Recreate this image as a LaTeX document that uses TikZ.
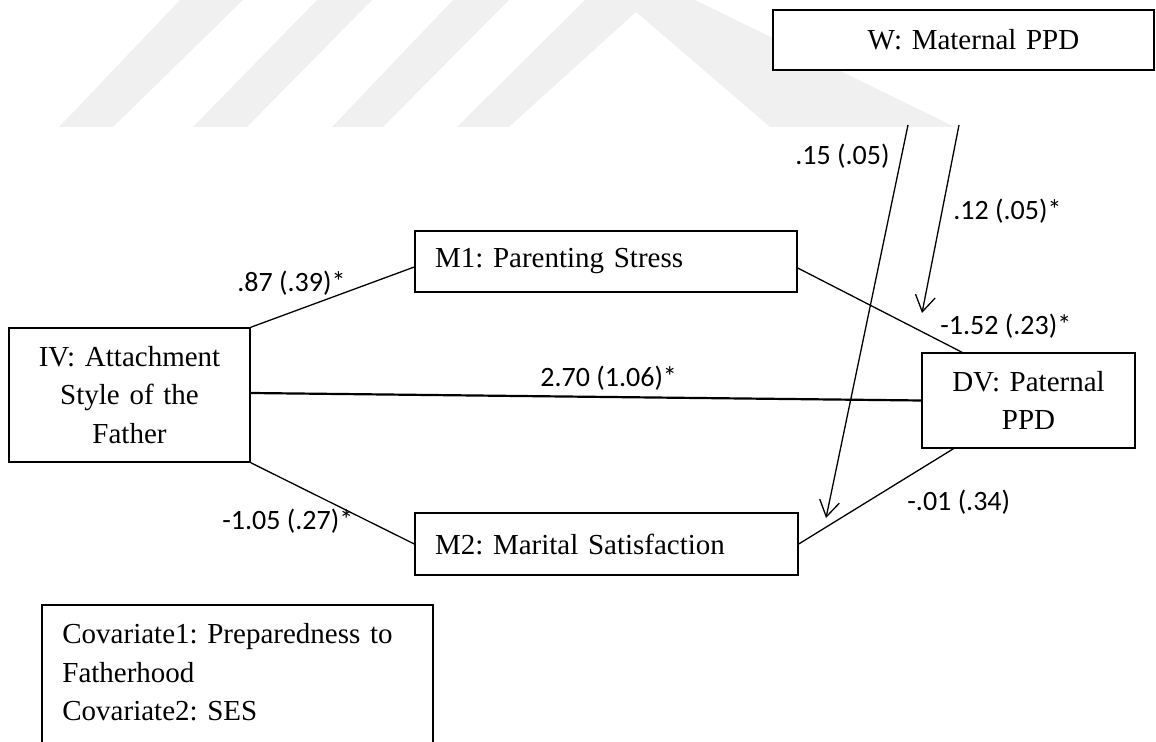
\documentclass[tikz,border=0pt]{standalone}
\usepackage{fontspec}
\setmainfont{Liberation Serif}
\newfontfamily\labfont{Carlito}
\usetikzlibrary{arrows.meta,calc}
\frenchspacing
\begin{document}
\begin{tikzpicture}[x=0.5pt,y=-0.5pt,
  box/.style={draw, line width=0.7pt, fill=white, inner sep=0pt, font=\frenchspacing\fontsize{14.5}{19.25}\selectfont},
  lbl/.style={font=\labfont\fontsize{14}{16}\selectfont, inner sep=0pt, anchor=base west},
  conn/.style={line width=0.65pt},
  arr/.style={line width=0.65pt, -{Straight Barb[length=8pt,width=10pt]}},
  wm/.style={fill=black!6, draw=none}]
\useasboundingbox (0,0) rectangle (1156,742);
\clip (0,0) rectangle (1156,742);
% watermark
\fill[wm] (59,127) -- (113,127) -- (243,0) -- (180,0) -- cycle;
\fill[wm] (193,127) -- (247,127) -- (372,0) -- (317,0) -- cycle;
\fill[wm] (332,127) -- (383,127) -- (509,0) -- (453,0) -- cycle;
\fill[wm] (457,127) -- (585,0) -- (695,0) -- (955,127) -- (770,127) -- (636,12) -- (509,127) -- cycle;
% boxes
\node[box, minimum width=120.5pt, minimum height=67pt, text width=120.5pt, align=center] (iv) at (129.5,395) {IV: Attachment\\Style of the\\Father};
\node[box, minimum width=191pt, minimum height=30.5pt, text width=171pt, align=left] (m1) at (606,261.5) {M1: Parenting Stress};
\node[box, minimum width=191.5pt, minimum height=31pt, text width=171.5pt, align=left] (m2) at (606.5,544) {M2: Marital Satisfaction};
\node[box, minimum width=106.5pt, minimum height=47.5pt, text width=106.5pt, align=center] (dv) at (1028.5,400.5) {DV: Paternal\\PPD};
\node[box, minimum width=190.5pt, minimum height=30pt, text width=190.5pt, align=center] (w) at (963.5,40) {\hspace*{10pt}W: Maternal PPD};
\draw[line width=0.7pt] (42,605) rectangle (433,800);
\node[inner sep=0pt, anchor=north west, text width=185pt, align=left, font=\frenchspacing\fontsize{14.5}{19.25}\selectfont] (cov) at (62,623) {Covariate1: Preparedness to\\Fatherhood\\Covariate2: SES};
% labels
\node[lbl] (l1) at (795,165) {.15 (.05)};
\node[lbl] (l2) at (953,220) {.12 (.05)*};
\node[lbl] (l3) at (237,292) {.87 (.39)*};
\node[lbl] (l4) at (540,387) {2.70 (1.06)*};
\node[lbl] (l5) at (940,335) {-1.52 (.23)*};
\node[lbl] (l6) at (907,511) {-.01 (.34)};
\node[lbl] (l7) at (222,530) {-1.05 (.27)*};
% connectors
\draw[conn] (iv.north east) -- ([yshift=-2.75pt]m1.west);
\draw[conn, line width=1.1pt] ([yshift=1pt]iv.east) -- (dv.west);
\draw[conn] (iv.south east) -- (m2.west);
\draw[conn] ([yshift=-3.25pt]m1.east) -- ($(dv.north west)!0.19!(dv.north east)$);
\draw[conn] (m2.east) -- ($(dv.south west)!0.15!(dv.south east)$);
\coordinate (wa) at (959,125);
\coordinate (ta) at (922,313);
\coordinate (wb) at (908,125);
\coordinate (tb) at (826,518);
\draw[arr] (wa) -- (ta);
\draw[arr] (wb) -- (tb);
\end{tikzpicture}
\end{document}
